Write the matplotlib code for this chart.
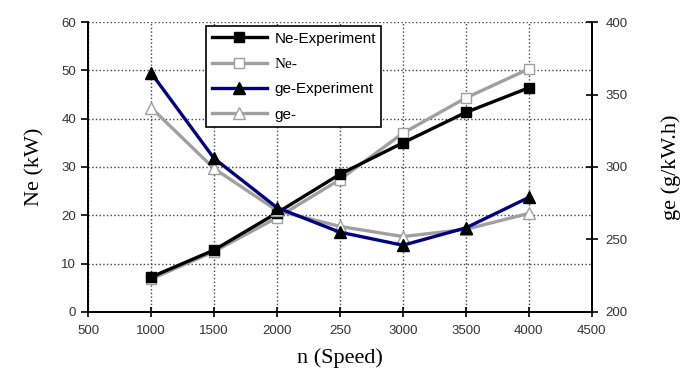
import matplotlib.pyplot as plt
from matplotlib.lines import Line2D

# 数据
speed = [1000, 1500, 2000, 2500, 3000, 3500, 4000]
ne_exp = [7.2, 12.8, 20.5, 28.5, 35.0, 41.3, 46.4]
ne_sim = [6.8, 12.5, 19.5, 27.4, 37.0, 44.3, 50.3]
ge_exp = [365, 306, 272, 255, 246, 258, 279]
ge_sim = [341, 299, 270, 259, 252, 257, 268]

x_ticks = [500, 1000, 1500, 2000, 2500, 3000, 3500, 4000, 4500]
x_tick_labels = ['500', '1000', '1500', '2000', '250', '3000', '3500', '4000', '4500']
legend_labels = ['Ne-Experiment', 'Ne-', 'ge-Experiment', 'ge-']

plt.rcParams['font.family'] = ['Liberation Sans', 'DejaVu Sans']

fig = plt.figure(figsize=(6.93, 3.74), dpi=100)
ax1 = fig.add_axes([0.127, 0.166, 0.727, 0.775])
ax2 = ax1.twinx()

lw = 2.4
ax1.plot(speed, ne_exp, color='black', lw=lw, marker='s', ms=7, mfc='black', mec='black', zorder=5)
ax1.plot(speed, ne_sim, color='#a0a0a0', lw=lw, marker='s', ms=7, mfc='white', mec='#a0a0a0', zorder=4)
ax2.plot(speed, ge_exp, color='#000080', lw=lw, marker='^', ms=8, mfc='black', mec='black', zorder=5)
ax2.plot(speed, ge_sim, color='#a0a0a0', lw=lw, marker='^', ms=8, mfc='white', mec='#a0a0a0', zorder=4)

ax1.set_xlim(500, 4500)
ax1.set_ylim(0, 60)
ax2.set_ylim(200, 400)
ax1.set_xticks(x_ticks)
ax1.set_xticklabels(x_tick_labels)
ax1.set_yticks(range(0, 61, 10))
ax2.set_yticks(range(200, 401, 50))

ax1.grid(True, linestyle=':', color='#444444', lw=1.0)
ax1.set_axisbelow(True)

for ax in (ax1, ax2):
    for s in ax.spines.values():
        s.set_linewidth(1.3)
    ax.tick_params(labelsize=9.5, width=1.2, labelcolor='#333333')
ax1.spines['top'].set_visible(False)
ax2.spines['top'].set_visible(False)
ax1.tick_params(axis='y', direction='out', length=5)
ax1.tick_params(axis='x', direction='inout', length=7, pad=6)
ax2.tick_params(axis='y', direction='inout', length=8, pad=6)

ax1.set_ylabel('Ne (kW)', family='Liberation Serif', fontsize=16, labelpad=12)
ax2.set_ylabel('ge (g/kW.h)', family='Liberation Serif', fontsize=16, labelpad=24)
ax1.set_xlabel('n (Speed)', family='Liberation Serif', fontsize=16, labelpad=8)

handles = [
    Line2D([], [], color='black', lw=lw, marker='s', ms=7, mfc='black', mec='black'),
    Line2D([], [], color='#a0a0a0', lw=lw, marker='s', ms=7, mfc='white', mec='#a0a0a0'),
    Line2D([], [], color='#000080', lw=lw, marker='^', ms=8, mfc='black', mec='black'),
    Line2D([], [], color='#a0a0a0', lw=lw, marker='^', ms=8, mfc='white', mec='#a0a0a0'),
]
leg = ax2.legend(handles, legend_labels, loc='upper left', bbox_to_anchor=(0.235, 0.985),
                 frameon=True, fancybox=False, edgecolor='black', framealpha=1,
                 fontsize=11, handlelength=3.6, borderaxespad=0, labelspacing=0.75,
                 borderpad=0.35, handletextpad=0.5)
leg.get_frame().set_linewidth(1.2)
leg.set_zorder(10)
leg.get_texts()[1].set_family('Liberation Serif')

fig.savefig('out.png', dpi=100)
